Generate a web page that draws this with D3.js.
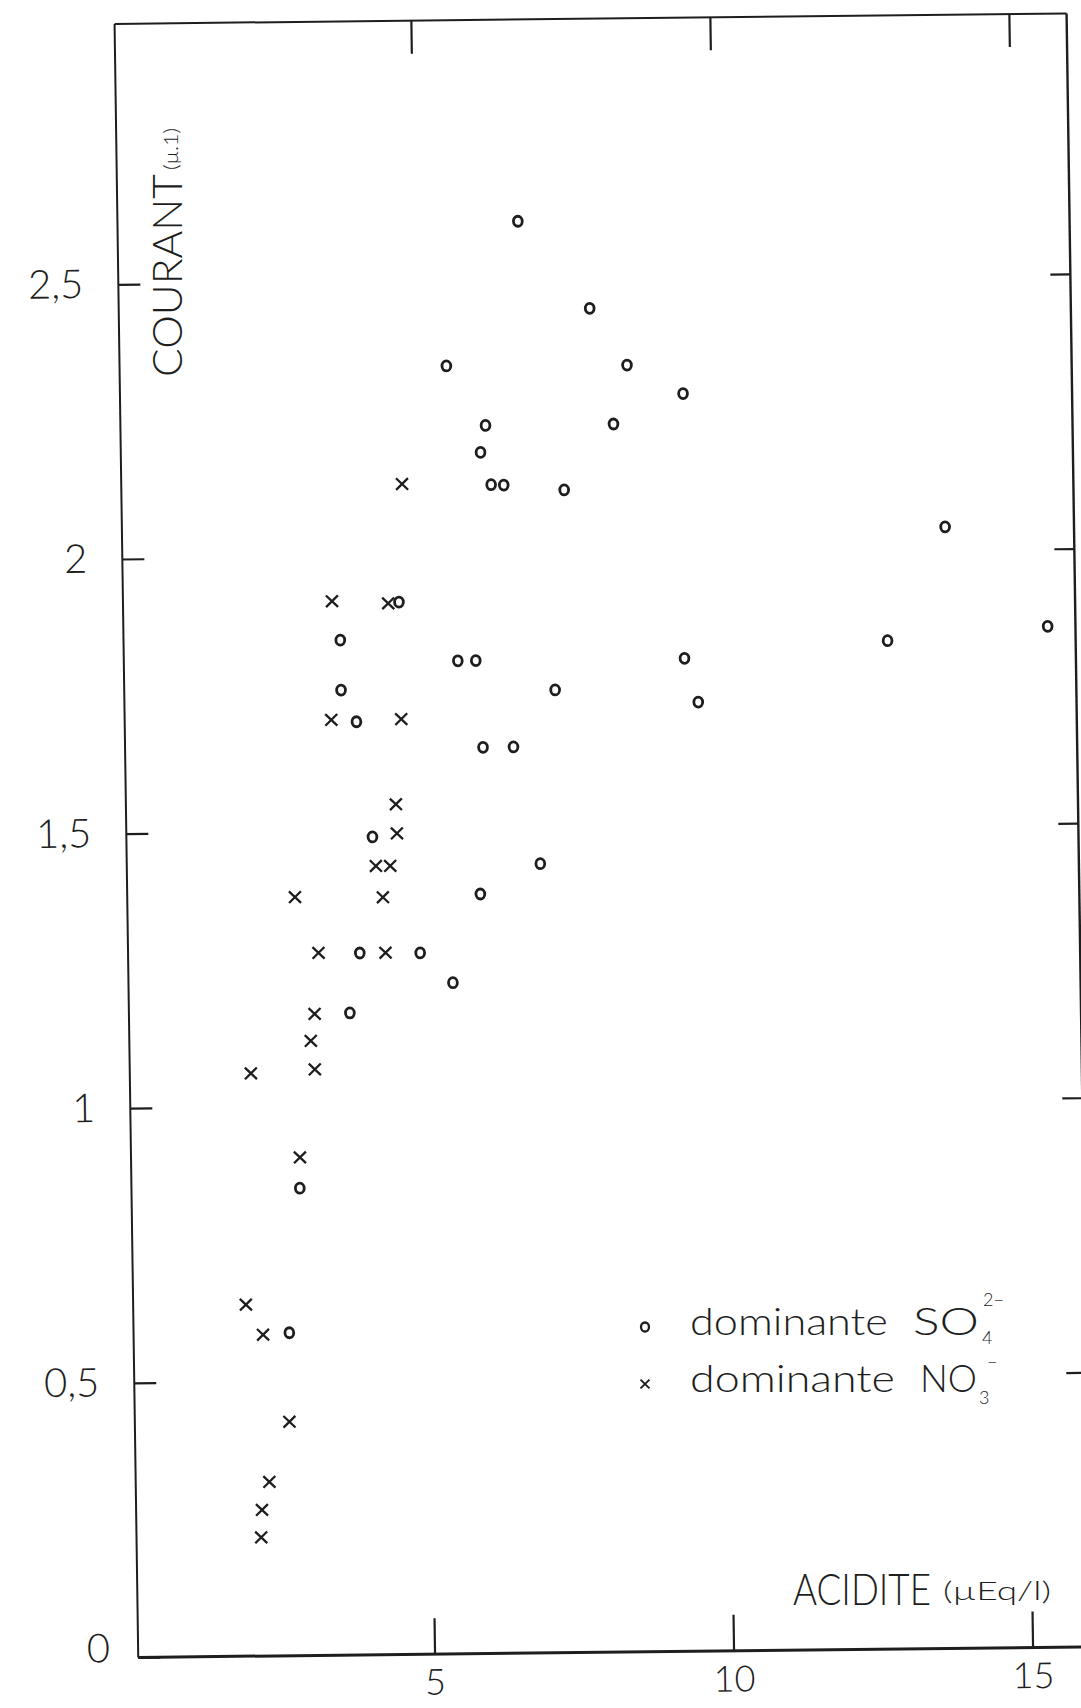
<!DOCTYPE html>
<html>
<head>
<meta charset="utf-8">
<script src="https://cdn.jsdelivr.net/npm/d3@7"></script>
<style>
  html, body { margin: 0; padding: 0; background: #fff; }
  svg { display: block; }
  text { font-family: Lato, "Open Sans", "DejaVu Sans", sans-serif; font-weight: 300; fill: #1e1e1e; }
</style>
</head>
<body>
<script>
// ---- data ----
// dominante SO4(2-) : circles
const sulfateX = [6.74, 7.92, 5.51, 8.53, 9.46, 6.15, 8.29, 6.06, 6.23, 6.44, 7.45, 13.81,
                  4.66, 3.67, 5.63, 5.93, 9.42, 15.50, 12.82, 3.67, 7.25, 9.64, 3.92, 6.03,
                  6.54, 4.16, 6.96, 5.95, 3.92, 4.93, 5.47, 3.74, 2.86, 2.65];
const sulfateY = [2.607, 2.447, 2.345, 2.343, 2.290, 2.236, 2.236, 2.187, 2.128, 2.127, 2.117, 2.042,
                  1.916, 1.848, 1.808, 1.808, 1.808, 1.859, 1.836, 1.757, 1.753, 1.728, 1.699, 1.650,
                  1.650, 1.489, 1.437, 1.383, 1.278, 1.277, 1.222, 1.169, 0.851, 0.588];
// dominante NO3(-) : crosses
const nitrateX = [4.74, 3.54, 4.48, 3.50, 4.67, 4.56, 4.57, 4.21, 4.45, 2.85, 4.32, 3.23,
                  4.35, 3.15, 3.08, 2.07, 3.14, 2.87, 1.93, 2.21, 2.63, 2.28, 2.15, 2.13];
const nitrateY = [2.131, 1.919, 1.914, 1.703, 1.703, 1.548, 1.495, 1.436, 1.436, 1.381, 1.379, 1.279,
                  1.278, 1.168, 1.119, 1.061, 1.067, 0.907, 0.640, 0.585, 0.426, 0.317, 0.266, 0.216];

const xTicks = [5, 10, 15];
const yTicks = [0, 0.5, 1, 1.5, 2, 2.5];
const yTickLabels = ["0", "0,5", "1", "1,5", "2", "2,5"];
const xTitle = "ACIDITE";
const xUnit = "(\u00b5Eq/l)";
const yTitle = "COURANT";
const yUnit = "(\u00b5.1)";
const legendLabels = ["dominante", "dominante"];

// ---- layout ----
const W = 1081, H = 1708;
const frame = { left: 138, right: 1090, top: 24, bottom: 1657.5 };
const ink = "#1e1e1e";

const x = d3.scaleLinear().domain([0, 15]).range([135.3, 1032.3]);
const y = d3.scaleLinear().domain([0, 2.5]).range([1657.5, 284.5]);

const svg = d3.select("body").append("svg").attr("width", W).attr("height", H);
svg.append("rect").attr("width", W).attr("height", H).attr("fill", "#fff");

// slight skew of the scanned original
const g = svg.append("g").attr("transform", "matrix(1,-0.011,0.0145,1,-23.78,1.43)");

// frame
g.append("line").attr("x1", frame.left).attr("x2", frame.left).attr("y1", frame.top).attr("y2", frame.bottom)
  .attr("stroke", ink).attr("stroke-width", 2);
g.append("line").attr("x1", frame.left).attr("x2", frame.right).attr("y1", frame.top).attr("y2", frame.top)
  .attr("stroke", ink).attr("stroke-width", 2);
g.append("line").attr("x1", frame.right).attr("x2", frame.right).attr("y1", frame.top).attr("y2", frame.bottom + 20)
  .attr("stroke", ink).attr("stroke-width", 2.4);
g.append("line").attr("x1", frame.left).attr("x2", frame.right + 20).attr("y1", frame.bottom).attr("y2", frame.bottom)
  .attr("stroke", ink).attr("stroke-width", 3);

// axes
const axL = g.append("g").attr("transform", `translate(${frame.left},0)`)
  .call(d3.axisLeft(y).tickValues(yTicks).tickSizeInner(-22).tickSizeOuter(0).tickPadding(35)
    .tickFormat((d, i) => yTickLabels[i]));
const axB = g.append("g").attr("transform", `translate(0,${frame.bottom})`)
  .call(d3.axisBottom(x).tickValues(xTicks).tickSizeInner(-36).tickSizeOuter(0).tickPadding(15));
const axT = g.append("g").attr("transform", `translate(0,${frame.top})`)
  .call(d3.axisTop(x).tickValues(xTicks).tickSizeInner(-33).tickSizeOuter(0).tickFormat(""));
const axR = g.append("g").attr("transform", `translate(${frame.right},0)`)
  .call(d3.axisRight(y).tickValues(yTicks.slice(1)).tickSizeInner(-20).tickSizeOuter(0).tickFormat(""));

[axL, axB, axT, axR].forEach(a => {
  a.select(".domain").remove();
  a.selectAll(".tick line").attr("stroke", ink).attr("stroke-width", 2.2);
  a.selectAll(".tick text").attr("fill", ink).style("font-size", "40px")
    .style("font-family", "Lato, 'Open Sans', sans-serif").style("font-weight", 300);
});
axB.selectAll(".tick text").style("font-size", "36px");
axL.selectAll(".tick").filter(d => d === 0).select("text").attr("dy", "0.1em").attr("x", -28);

// data points
g.append("g").selectAll("ellipse").data(d3.zip(sulfateX, sulfateY)).join("ellipse")
  .attr("cx", d => x(d[0])).attr("cy", d => y(d[1])).attr("rx", 4.4).attr("ry", 5)
  .attr("fill", "none").attr("stroke", ink).attr("stroke-width", 2.8);

const crossPath = "M-6,-5.8L6,5.8M6,-5.8L-6,5.8";
g.append("g").selectAll("path").data(d3.zip(nitrateX, nitrateY)).join("path")
  .attr("transform", d => `translate(${x(d[0])},${y(d[1])})`)
  .attr("d", crossPath).attr("fill", "none").attr("stroke", ink).attr("stroke-width", 2.3);

// helper: condense a text horizontally to a target width
function fit(sel, tx, ty, width, rot) {
  const w = sel.node().getComputedTextLength();
  sel.attr("transform", `translate(${tx},${ty})${rot ? ` rotate(${rot})` : ""} scale(${width / w},1)`);
  return sel;
}

// axis titles
fit(svg.append("text").style("font-size", "42px").text(yTitle), 182, 377, 203, -90);
fit(svg.append("text").style("font-size", "19px").text(yUnit), 178, 170, 42, -90);

fit(svg.append("text").style("font-size", "44px").text(xTitle), 793, 1605, 138);
fit(svg.append("text").style("font-size", "25px").text(xUnit), 943, 1600, 108);

// legend
const lg = svg.append("g");
lg.append("ellipse").attr("cx", 645).attr("cy", 1327).attr("rx", 4).attr("ry", 4.5).attr("fill", "none")
  .attr("stroke", ink).attr("stroke-width", 2.3);
lg.append("path").attr("transform", "translate(645,1384) scale(0.75)").attr("d", crossPath)
  .attr("fill", "none").attr("stroke", ink).attr("stroke-width", 2.6);

fit(lg.append("text").style("font-size", "38px").text(legendLabels[0]), 690, 1335, 198);
fit(lg.append("text").style("font-size", "38px").text("SO"), 913, 1335, 66);
lg.append("text").attr("x", 982).attr("y", 1344).style("font-size", "18px").text("4");
lg.append("text").attr("x", 983).attr("y", 1306).style("font-size", "18px").text("2\u2212");

fit(lg.append("text").style("font-size", "38px").text(legendLabels[1]), 690, 1392, 205);
fit(lg.append("text").style("font-size", "38px").text("NO"), 920, 1392, 57);
lg.append("text").attr("x", 979).attr("y", 1404).style("font-size", "18px").text("3");
lg.append("text").attr("x", 987).attr("y", 1368).style("font-size", "18px").text("\u2212");
</script>
</body>
</html>
